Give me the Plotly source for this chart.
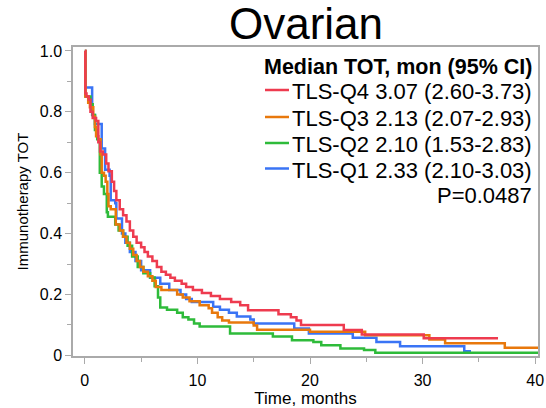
import plotly.graph_objects as go

# Kaplan-Meier style step data (time in months, survival fraction)
q4_t = [0, 0.05, 0.15, 0.35, 0.5, 0.7, 1.0, 1.2, 1.35, 1.6, 1.9, 2.1, 2.4, 2.6, 2.8, 3.1, 3.4, 3.7, 4.0, 4.3, 4.6, 5.0, 5.3, 5.6, 6.0, 6.4, 6.8, 7.2, 7.6, 8.0, 8.6, 9.0, 9.6, 10.4, 11.2, 12.0, 13.0, 13.8, 14.5, 17.2, 18.3, 18.8, 19.2, 23.0, 24.6, 30.1, 36.7]
q4_s = [1.0, 0.86, 0.85, 0.84, 0.80, 0.78, 0.77, 0.70, 0.67, 0.66, 0.63, 0.605, 0.57, 0.54, 0.51, 0.48, 0.46, 0.44, 0.41, 0.39, 0.37, 0.355, 0.34, 0.325, 0.31, 0.29, 0.275, 0.265, 0.255, 0.245, 0.235, 0.225, 0.215, 0.205, 0.195, 0.185, 0.175, 0.165, 0.148, 0.135, 0.125, 0.115, 0.10, 0.083, 0.069, 0.056, 0.056]

q3_t = [0, 0.05, 0.3, 0.45, 0.75, 0.9, 1.0, 1.2, 1.4, 1.5, 1.7, 1.85, 2.0, 2.1, 2.3, 2.75, 3.1, 3.4, 3.7, 4.0, 4.3, 4.6, 4.9, 5.2, 5.6, 6.0, 6.3, 6.8, 8.2, 8.7, 9.3, 10.2, 11.0, 11.3, 11.8, 12.2, 12.8, 15.0, 15.3, 20.0, 24.9, 30.6, 32.0, 37.3, 40.3]
q3_s = [1.0, 0.85, 0.83, 0.815, 0.785, 0.75, 0.72, 0.71, 0.66, 0.60, 0.59, 0.57, 0.53, 0.49, 0.48, 0.43, 0.41, 0.39, 0.37, 0.35, 0.33, 0.31, 0.29, 0.275, 0.26, 0.245, 0.225, 0.215, 0.20, 0.19, 0.178, 0.165, 0.155, 0.14, 0.125, 0.115, 0.108, 0.098, 0.084, 0.078, 0.066, 0.052, 0.04, 0.025, 0.025]

q2_t = [0, 0.05, 0.5, 0.7, 0.9, 1.1, 1.33, 1.5, 1.7, 1.95, 2.05, 2.7, 3.0, 3.4, 3.8, 4.2, 4.7, 5.2, 5.8, 6.2, 6.5, 6.7, 7.3, 8.2, 8.7, 9.2, 9.7, 10.2, 12.9, 16.7, 18.4, 20.3, 21.0, 22.7, 24.8, 25.8, 40.3]
q2_s = [1.0, 0.85, 0.825, 0.79, 0.74, 0.71, 0.60, 0.555, 0.53, 0.47, 0.455, 0.43, 0.41, 0.39, 0.36, 0.325, 0.29, 0.27, 0.256, 0.227, 0.19, 0.157, 0.15, 0.14, 0.125, 0.118, 0.105, 0.095, 0.072, 0.062, 0.05, 0.044, 0.033, 0.023, 0.018, 0.009, 0.009]

q1_t = [0, 0.05, 0.65, 0.9, 1.5, 1.8, 2.2, 2.3, 2.7, 2.8, 3.3, 3.6, 4.0, 4.5, 5.0, 5.8, 6.7, 7.5, 8.5, 9.0, 9.5, 11.4, 12.0, 12.8, 13.5, 14.7, 15.0, 18.6, 19.9, 23.8, 25.9, 28.0, 33.7, 34.3]
q1_s = [1.0, 0.88, 0.79, 0.76, 0.68, 0.61, 0.59, 0.51, 0.50, 0.45, 0.40, 0.37, 0.34, 0.31, 0.28, 0.255, 0.235, 0.215, 0.20, 0.185, 0.175, 0.16, 0.15, 0.14, 0.128, 0.118, 0.105, 0.088, 0.072, 0.058, 0.044, 0.03, 0.014, 0.014]

labels = ["TLS-Q4 3.07 (2.60-3.73)", "TLS-Q3 2.13 (2.07-2.93)",
          "TLS-Q2 2.10 (1.53-2.83)", "TLS-Q1 2.33 (2.10-3.03)"]
colors = ["#EE3B4F", "#E8780C", "#2EBB3A", "#3A74F5"]
series = [(q4_t, q4_s), (q3_t, q3_s), (q2_t, q2_s), (q1_t, q1_s)]
legend_title = "Median TOT, mon (95% CI)"
p_text = "P=0.0487"

x_ticks = [0, 10, 20, 30, 40]
y_ticks = [0, 0.2, 0.4, 0.6, 0.8, 1.0]
y_ticktext = ["0", "0.2", "0.4", "0.6", "0.8", "1.0"]

FONT = "Liberation Sans, Arial, sans-serif"
W, H = 546, 408
ML, MR, MT, MB = 73, 8, 47, 52
PW, PH = W - ML - MR, H - MT - MB


def px_x(x):
    return (x - ML) / PW


def px_y(y):
    return (H - MB - y) / PH


fig = go.Figure()
# draw in reverse so red is on top
for i in [3, 2, 1, 0]:
    t, s = series[i]
    fig.add_trace(go.Scatter(x=t, y=s, mode="lines", name=labels[i], showlegend=False,
                             line=dict(color=colors[i], width=2.5, shape="hv")))

annotations = []
shapes = []
text_right = px_x(534)
annotations.append(dict(text="<b>%s</b>" % legend_title, x=text_right, y=px_y(67),
                        xref="paper", yref="paper", xanchor="right", yanchor="middle",
                        showarrow=False, font=dict(size=21.5, family=FONT)))
centers = [91.5, 118.5, 144.5, 170]
for i, lab in enumerate(labels):
    annotations.append(dict(text=lab, x=text_right, y=px_y(centers[i]),
                            xref="paper", yref="paper", xanchor="right", yanchor="middle",
                            showarrow=False, font=dict(size=22, family=FONT)))
    ly = px_y(centers[i] - 1.5)
    shapes.append(dict(type="line", xref="paper", yref="paper", x0=px_x(265), x1=px_x(289),
                       y0=ly, y1=ly, line=dict(color=colors[i], width=2.5)))
annotations.append(dict(text=p_text, x=text_right, y=px_y(195.5),
                        xref="paper", yref="paper", xanchor="right", yanchor="middle",
                        showarrow=False, font=dict(size=22, family=FONT)))

fig.update_layout(
    width=W, height=H,
    margin=dict(l=ML, r=MR, t=MT, b=MB, autoexpand=False),
    paper_bgcolor="white", plot_bgcolor="white",
    font=dict(family=FONT, color="black", size=16),
    title=dict(text="Ovarian", x=306 / W, xanchor="center", xref="container",
               y=1 - 24 / H, yanchor="middle", yref="container", automargin=False,
               font=dict(size=44, family=FONT)),
    showlegend=False,
    annotations=annotations,
    shapes=shapes,
)

fig.update_xaxes(range=[-1.05, 40.25], tickvals=x_ticks, ticks="outside", ticklen=6,
                 tickcolor="#aaaaaa", showline=True, linecolor="#aaaaaa", linewidth=1.5,
                 mirror=True, showgrid=False, zeroline=False, ticklabelstandoff=3,
                 automargin=False,
                 minor=dict(tickvals=[5, 15, 25, 35], ticks="outside", ticklen=4, tickcolor="#aaaaaa"),
                 title=dict(text="Time, months", font=dict(size=17), standoff=9),
                 tickfont=dict(size=16))
fig.update_yaxes(range=[-0.002, 1.013], tickvals=y_ticks, ticktext=y_ticktext,
                 ticks="outside", ticklen=6, tickcolor="#aaaaaa", showline=True,
                 linecolor="#aaaaaa", linewidth=1.5, mirror=True, showgrid=False, zeroline=False,
                 automargin=False,
                 minor=dict(tickvals=[0.1, 0.3, 0.5, 0.7, 0.9], ticks="outside", ticklen=4, tickcolor="#aaaaaa"),
                 title=dict(text="Immunotherapy TOT", font=dict(size=15), standoff=8),
                 tickfont=dict(size=16))

fig.write_html("out.html")
